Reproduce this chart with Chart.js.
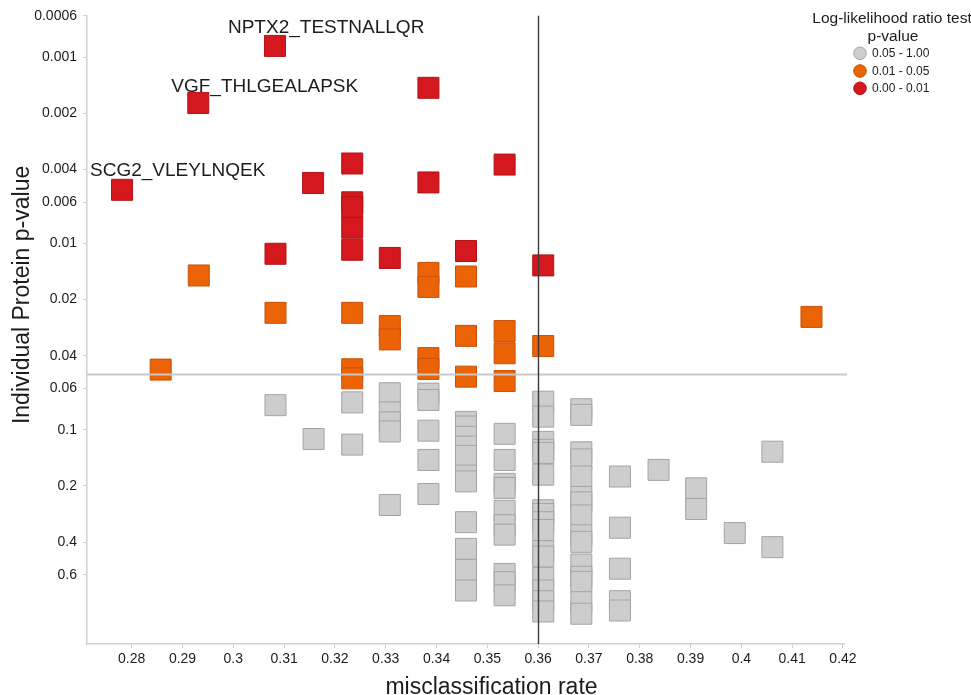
<!DOCTYPE html>
<html>
<head>
<meta charset="utf-8">
<script src="https://cdn.jsdelivr.net/npm/chart.js@4/dist/chart.umd.min.js"></script>
<style>
  html, body { margin: 0; padding: 0; background: #ffffff; }
  #wrap { width: 971px; height: 695px; position: relative; }
</style>
</head>
<body>
<div id="wrap"><canvas id="chart" width="971" height="695"></canvas></div>
<script>
// ---- axis ticks ----
const rateTicks = [0.28, 0.29, 0.30, 0.31, 0.32, 0.33, 0.34, 0.35, 0.36, 0.37, 0.38, 0.39, 0.40, 0.41, 0.42];
const rateTickLabels = ['0.28', '0.29', '0.3', '0.31', '0.32', '0.33', '0.34', '0.35', '0.36', '0.37', '0.38', '0.39', '0.4', '0.41', '0.42'];
const pTicks = [0.0006, 0.001, 0.002, 0.004, 0.006, 0.01, 0.02, 0.04, 0.06, 0.1, 0.2, 0.4, 0.6];
const pTickLabels = ['0.0006', '0.001', '0.002', '0.004', '0.006', '0.01', '0.02', '0.04', '0.06', '0.1', '0.2', '0.4', '0.6'];

// ---- cut-offs ----
const rateCutoff = 0.36;
const pCutoff = 0.05;

// ---- peptides, LLR test p-value 0.00 - 0.01 ----
const redRate = [0.3082, 0.2931, 0.2781, 0.3384, 0.3234, 0.3534, 0.3384, 0.3157,
                 0.3234, 0.3234, 0.3234, 0.3234, 0.3083, 0.3308, 0.3458, 0.3610];
const redP    = [0.00087, 0.00176, 0.00515, 0.00146, 0.00372, 0.00377, 0.0047, 0.00473,
                 0.00601, 0.00636, 0.00823, 0.0108, 0.01135, 0.01195, 0.01097, 0.0131];
const redNames = ['NPTX2_TESTNALLQR', 'VGF_THLGEALAPSK', 'SCG2_VLEYLNQEK'];

// ---- peptides, LLR test p-value 0.01 - 0.05 ----
const orangeRate = [0.2932, 0.3083, 0.2857, 0.3234, 0.3234, 0.3234, 0.3308, 0.3308,
                    0.3384, 0.3384, 0.3384, 0.3384, 0.3458, 0.3458, 0.3458,
                    0.3534, 0.3534, 0.3534, 0.3610, 0.4138];
const orangeP    = [0.01484, 0.02355, 0.0475, 0.02355, 0.0473, 0.0529, 0.0277, 0.0327,
                    0.01438, 0.0171, 0.0412, 0.0471, 0.01503, 0.0313, 0.0518,
                    0.0295, 0.0388, 0.0547, 0.0355, 0.02476];

// ---- peptides, LLR test p-value 0.05 - 1.00 ----
const grayRate = [
  0.3083,
  0.3158,
  0.3234, 0.3234,
  0.3308, 0.3308, 0.3308, 0.3308, 0.3308,
  0.3384, 0.3384, 0.3384, 0.3384, 0.3384,
  0.3458, 0.3458, 0.3458, 0.3458, 0.3458, 0.3458, 0.3458, 0.3458, 0.3458, 0.3458, 0.3458,
  0.3534, 0.3534, 0.3534, 0.3534, 0.3534, 0.3534, 0.3534, 0.3534, 0.3534, 0.3534,
  0.3610, 0.3610, 0.3610, 0.3610, 0.3610, 0.3610, 0.3610, 0.3610, 0.3610, 0.3610, 0.3610, 0.3610, 0.3610, 0.3610, 0.3610, 0.3610,
  0.3685, 0.3685, 0.3685, 0.3685, 0.3685, 0.3685, 0.3685, 0.3685, 0.3685, 0.3685, 0.3685, 0.3685, 0.3685, 0.3685, 0.3685,
  0.3761, 0.3761, 0.3761, 0.3761, 0.3761,
  0.3837,
  0.3911, 0.3911,
  0.3987,
  0.4061, 0.4061
];
const grayP = [
  0.0737,
  0.112,
  0.0712, 0.120,
  0.0636, 0.0806, 0.0912, 0.102, 0.253,
  0.0639, 0.0691, 0.101, 0.145, 0.221,
  0.0906, 0.0960, 0.109, 0.123, 0.138, 0.176, 0.189, 0.313, 0.435, 0.564, 0.728,
  0.105, 0.145, 0.195, 0.205, 0.272, 0.325, 0.365, 0.593, 0.657, 0.772,
  0.0706, 0.0849, 0.116, 0.128, 0.133, 0.174, 0.270, 0.283, 0.313, 0.345, 0.448, 0.479, 0.622, 0.728, 0.831, 0.943,
  0.0775, 0.0831, 0.132, 0.144, 0.178, 0.229, 0.245, 0.288, 0.368, 0.399, 0.528, 0.615, 0.654, 0.841, 0.970,
  0.178, 0.335, 0.556, 0.831, 0.932,
  0.164,
  0.206, 0.266,
  0.358,
  0.131, 0.426
];

// ---- legend entries ----
const legendTitle = ['Log-likelihood ratio test', 'p-value'];
const legendLabels = ['0.05 - 1.00', '0.01 - 0.05', '0.00 - 0.01'];

const FONT = '"Liberation Sans", Arial, Helvetica, sans-serif';
const COLORS = {
  gray:   { fill: '#cdcdcd', line: '#a4a4a4' },
  orange: { fill: '#eb6305', line: '#c8520a' },
  red:    { fill: '#d5181e', line: '#b3131a' }
};

function toPoints(rates, ps) {
  return rates.map((r, i) => ({ x: r, y: ps[i] }));
}

function squareSet(label, rates, ps, c) {
  return {
    label: label,
    data: toPoints(rates, ps),
    pointStyle: 'rect',
    pointRadius: 14.85,
    pointHoverRadius: 14.85,
    pointBorderWidth: 1,
    pointHoverBorderWidth: 1,
    backgroundColor: c.fill,
    borderColor: c.line,
    showLine: false
  };
}

// cut-off lines, peptide names, axis titles and the LLR legend
const decorations = {
  id: 'decorations',
  afterDatasetsDraw(chart) {
    const { ctx, chartArea, scales } = chart;
    const x = scales.x, y = scales.y;
    ctx.save();
    // p-value cut-off
    const yc = Math.round(y.getPixelForValue(pCutoff)) + 0.5;
    ctx.strokeStyle = '#c9c9c9';
    ctx.lineWidth = 2;
    ctx.beginPath();
    ctx.moveTo(chartArea.left, yc);
    ctx.lineTo(chartArea.right + 3, yc);
    ctx.stroke();
    // misclassification cut-off
    const xc = Math.round(x.getPixelForValue(rateCutoff)) + 0.5;
    ctx.strokeStyle = '#3a3a3a';
    ctx.lineWidth = 1.4;
    ctx.beginPath();
    ctx.moveTo(xc, chartArea.top);
    ctx.lineTo(xc, chartArea.bottom);
    ctx.stroke();
    ctx.restore();
  },
  afterDraw(chart) {
    const { ctx, chartArea, scales } = chart;
    const x = scales.x, y = scales.y;
    ctx.save();
    ctx.fillStyle = '#1c1c1c';

    // peptide names next to the three lowest p-values
    const nameOffsets = [[-47, -13], [-27, -11], [-32, -14]];
    ctx.font = '19px ' + FONT;
    ctx.textAlign = 'left';
    ctx.textBaseline = 'alphabetic';
    redNames.forEach((name, i) => {
      const px = x.getPixelForValue(redRate[i]);
      const py = y.getPixelForValue(redP[i]);
      ctx.fillText(name, px + nameOffsets[i][0], py + nameOffsets[i][1]);
    });

    // axis titles
    ctx.font = '23px ' + FONT;
    ctx.textAlign = 'center';
    ctx.fillText('misclassification rate', (chartArea.left + chartArea.right) / 2 + 26, 694);
    ctx.save();
    ctx.translate(28.5, (chartArea.top + chartArea.bottom) / 2 - 35);
    ctx.rotate(-Math.PI / 2);
    ctx.fillText('Individual Protein p-value', 0, 0);
    ctx.restore();

    // legend
    ctx.font = '15.5px ' + FONT;
    ctx.textAlign = 'center';
    ctx.fillText(legendTitle[0], 892, 23);
    ctx.fillText(legendTitle[1], 893, 41);
    const keys = [COLORS.gray, COLORS.orange, COLORS.red];
    const rowY = [53.3, 71, 88.3];
    ctx.font = '12px ' + FONT;
    ctx.textAlign = 'left';
    ctx.textBaseline = 'middle';
    keys.forEach((c, i) => {
      ctx.beginPath();
      ctx.arc(860, rowY[i], 6.3, 0, Math.PI * 2);
      ctx.fillStyle = c.fill;
      ctx.fill();
      ctx.strokeStyle = c.line;
      ctx.lineWidth = 1;
      ctx.stroke();
      ctx.fillStyle = '#1c1c1c';
      ctx.fillText(legendLabels[i], 872, rowY[i] + 0.5);
    });
    ctx.restore();
  }
};

new Chart(document.getElementById('chart'), {
  type: 'scatter',
  data: {
    datasets: [
      squareSet('0.05 - 1.00', grayRate, grayP, COLORS.gray),
      squareSet('0.01 - 0.05', orangeRate, orangeP, COLORS.orange),
      squareSet('0.00 - 0.01', redRate, redP, COLORS.red)
    ]
  },
  options: {
    responsive: false,
    animation: false,
    devicePixelRatio: 1,
    layout: { padding: { top: 15, right: 127, left: 0, bottom: 0 } },
    plugins: {
      legend: { display: false },
      tooltip: { enabled: false }
    },
    events: [],
    scales: {
      x: {
        type: 'linear',
        bounds: 'data',
        min: 0.2712,
        max: 0.4202,
        afterBuildTicks: s => { s.ticks = rateTicks.map(v => ({ value: v })); },
        afterFit: s => { s.height = 51; },
        ticks: {
          autoSkip: false,
          maxRotation: 0,
          padding: 3,
          color: '#1c1c1c',
          font: { size: 14, family: FONT },
          callback: (v, i) => rateTickLabels[i]
        },
        grid: { drawOnChartArea: false, drawTicks: true, tickLength: 4, color: '#cfcfcf' },
        border: { display: true, color: '#d0d0d0', width: 1.5 }
      },
      y: {
        type: 'logarithmic',
        reverse: true,
        bounds: 'data',
        min: 0.0006,
        max: 1.41,
        afterBuildTicks: s => { s.ticks = pTicks.map(v => ({ value: v })); },
        afterFit: s => { s.width = 87; },
        ticks: {
          autoSkip: false,
          padding: 6,
          color: '#1c1c1c',
          font: { size: 14, family: FONT },
          callback: (v, i) => pTickLabels[i]
        },
        grid: { drawOnChartArea: false, drawTicks: true, tickLength: 4, color: '#cfcfcf' },
        border: { display: true, color: '#d0d0d0', width: 1.5 }
      }
    }
  },
  plugins: [decorations]
});
</script>
</body>
</html>
